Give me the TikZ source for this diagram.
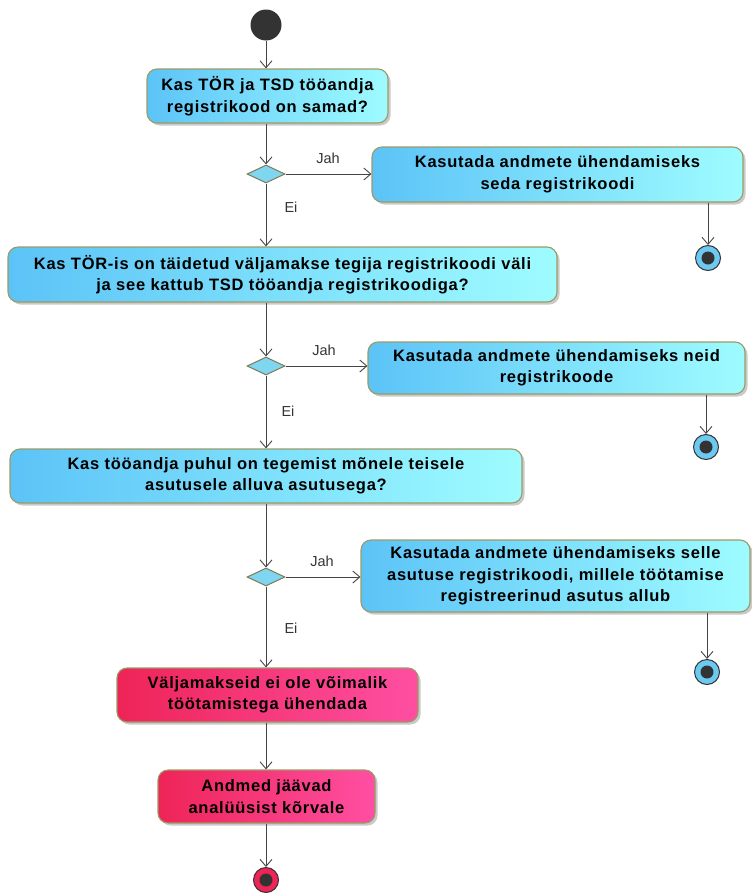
\documentclass[tikz,border=0pt]{standalone}
\usepackage{fontspec}
\setmainfont{Liberation Sans}
\newfontfamily\actfont[LetterSpace=4.5]{Liberation Sans}
\usetikzlibrary{arrows.meta,shapes.geometric,shadows}
\definecolor{lineC}{HTML}{454545}
\definecolor{bordC}{HTML}{9C9A66}
\definecolor{blueL}{HTML}{5CC3F7}
\definecolor{blueR}{HTML}{9EFCFF}
\definecolor{pinkL}{HTML}{EE2457}
\definecolor{pinkR}{HTML}{FF4FA3}
\definecolor{diamC}{HTML}{7FD6F0}
\definecolor{endC}{HTML}{6CC9F2}
\definecolor{darkC}{HTML}{333333}
\tikzset{
  act/.style={draw=bordC, line width=1.1pt, rounded corners=10pt, align=center,
    font=\actfont\bfseries\fontsize{16.5}{21.5}\selectfont, text=black, inner sep=0pt,
    drop shadow={shadow xshift=2.5pt, shadow yshift=-2.5pt, fill=black!35, opacity=0.6}},
  blueact/.style={act, left color=blueL, right color=blueR},
  pinkact/.style={act, left color=pinkL, right color=pinkR},
  decis/.style={diamond, draw=bordC!80!black, line width=1pt, fill=diamC, aspect=2.1,
    minimum width=38pt, minimum height=18pt, inner sep=0pt},
  startnode/.style={circle, fill=darkC, minimum size=31pt, inner sep=0pt},
  endnode/.style={circle, draw=darkC, line width=1pt, fill=#1, minimum size=25pt, inner sep=0pt,
    path picture={\fill[darkC] (path picture bounding box.center) circle (6.5pt);}},
  arr/.style={draw=lineC, line width=0.9pt, -{Straight Barb[length=7pt,width=12pt,line width=0.9pt]}},
  lbl/.style={font=\fontsize{14.5}{17}\selectfont, text=darkC, inner sep=0pt}
}
\begin{document}
\begin{tikzpicture}[x=1pt,y=-1pt]
\useasboundingbox (0,0) rectangle (752,894);
% start
\node[startnode] (st) at (266,25) {};
% box 1
\node[blueact, minimum width=241pt, minimum height=54pt] (b1) at (267.5,96) {Kas TÖR ja TSD tööandja\\registrikood on samad?};
\node[decis] (d1) at (266,174) {};
\node[blueact, minimum width=371pt, minimum height=55pt] (r1) at (557.5,174.5) {Kasutada andmete ühendamiseks\\seda registrikoodi};
\node[endnode=endC] (e1) at (708,258) {};
% box 2
\node[blueact, minimum width=549pt, minimum height=55pt] (b2) at (282.5,274.5) {Kas TÖR-is on täidetud väljamakse tegija registrikoodi väli\\ja see kattub TSD tööandja registrikoodiga?};
\node[decis] (d2) at (266,366) {};
\node[blueact, minimum width=377pt, minimum height=52pt] (r2) at (556.5,368) {Kasutada andmete ühendamiseks neid\\registrikoode};
\node[endnode=endC] (e2) at (706,447) {};
% box 3
\node[blueact, minimum width=512pt, minimum height=54pt] (b3) at (266,476) {Kas tööandja puhul on tegemist mõnele teisele\\asutusele alluva asutusega?};
\node[decis] (d3) at (266,577) {};
\node[blueact, minimum width=389pt, minimum height=72pt] (r3) at (555.5,576) {Kasutada andmete ühendamiseks selle\\asutuse registrikoodi, millele töötamise\\registreerinud asutus allub};
\node[endnode=endC] (e3) at (707,672) {};
% pink boxes
\node[pinkact, minimum width=301pt, minimum height=54pt] (p1) at (267.5,695) {Väljamakseid ei ole võimalik\\töötamistega ühendada};
\node[pinkact, minimum width=217pt, minimum height=53pt] (p2) at (266.5,796.5) {Andmed jäävad\\analüüsist kõrvale};
\node[endnode=pinkL] (e4) at (266,880) {};
% labels
\node[lbl] (j1) at (328,158) {Jah};
\node[lbl] (i1) at (291,207) {Ei};
\node[lbl] (j2) at (324,350) {Jah};
\node[lbl] (i2) at (288,411) {Ei};
\node[lbl] (j3) at (322,561) {Jah};
\node[lbl] (i3) at (291,628) {Ei};
% connectors
\draw[arr] (st) -- (st |- b1.north);
\draw[arr] (b1.south -| d1) -- (d1.north);
\draw[arr] (d1.east) -- (d1.east -| r1.west);
\draw[arr] (d1.south) -- (d1.south |- b2.north);
\draw[arr] (r1.south -| e1) -- (e1.north);
\draw[arr] (b2.south -| d2) -- (d2.north);
\draw[arr] (d2.east) -- (d2.east -| r2.west);
\draw[arr] (d2.south) -- (d2.south |- b3.north);
\draw[arr] (r2.south -| e2) -- (e2.north);
\draw[arr] (b3.south -| d3) -- (d3.north);
\draw[arr] (d3.east) -- (d3.east -| r3.west);
\draw[arr] (d3.south) -- (d3.south |- p1.north);
\draw[arr] (r3.south -| e3) -- (e3.north);
\draw[arr] (p1.south -| e4) -- (e4 |- p2.north);
\draw[arr] (p2.south -| e4) -- (e4.north);
\end{tikzpicture}
\end{document}
